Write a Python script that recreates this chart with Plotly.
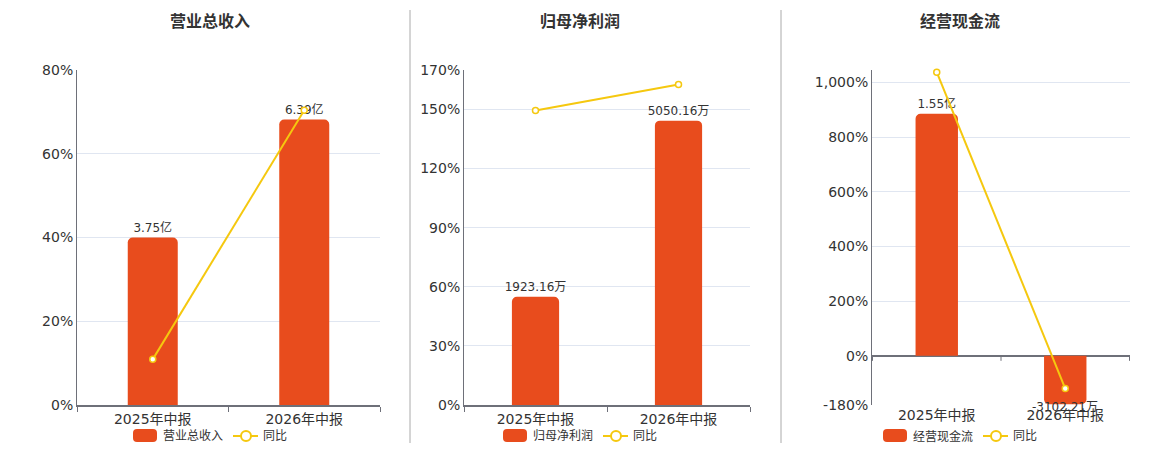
import plotly.graph_objects as go

# ---------------- data ----------------
periods = ["2025年中报", "2026年中报"]

titles = ["营业总收入", "归母净利润", "经营现金流"]
yoy_name = "同比"

revenue = [3.75, 6.39]            # 亿
revenue_labels = ["3.75亿", "6.39亿"]
revenue_yoy = [10.9, 70.4]        # %

profit = [1923.16, 5050.16]       # 万
profit_labels = ["1923.16万", "5050.16万"]
profit_yoy = [149.5, 162.6]       # %

cashflow = [15500.0, -3102.21]    # 万
cashflow_labels = ["1.55亿", "-3102.21万"]
cashflow_yoy = [1038.0, -120.0]   # %

pct_ticks_1 = [0, 20, 40, 60, 80]
pct_ticks_2 = [0, 30, 60, 90, 120, 150, 170]
pct_ticks_3 = [-180, 0, 200, 400, 600, 800, 1000]

# ---------------- style ----------------
BAR = "#E84C1D"
LINE = "#F5C80F"
AXIS = "#6E7079"
GRID = "#E0E6F1"
TXT = "#333333"
FONT = "DejaVu Sans, Noto Sans CJK SC, sans-serif"

W, H = 1160, 450
OFF = 8  # page body margin offset


def px_x(p):
    return (p - OFF) / W


def px_y(p):
    return 1 - (p - OFF) / H


dom_y = [px_y(405), px_y(70)]
domains = [[px_x(77), px_x(380)], [px_x(464), px_x(750)], [px_x(872), px_x(1130)]]
centers = [210, 580, 960]

fig = go.Figure()

panels = [
    (revenue, revenue_labels, revenue_yoy, [0, 7.5], [0, 80], pct_ticks_1),
    (profit, profit_labels, profit_yoy, [0, 5950], [0, 170], pct_ticks_2),
    (cashflow, cashflow_labels, cashflow_yoy, [-3150, 18307], [-180, 1046], pct_ticks_3),
]

for i, (vals, labels, yoy, bar_rng, pct_rng, ticks) in enumerate(panels):
    n = i + 1
    xa = "x" if n == 1 else f"x{n}"
    ya_bar = "y" if n == 1 else f"y{n}"
    ya_pct = f"y{n + 3}"

    pos_text = [t if v >= 0 else "" for v, t in zip(vals, labels)]
    fig.add_trace(go.Bar(
        x=periods, y=vals, text=pos_text, textposition="outside",
        cliponaxis=False, width=0.33, constraintext="none",
        marker=dict(color=BAR, cornerradius=5, line=dict(width=0)),
        textfont=dict(size=12, color=TXT, family=FONT),
        name=titles[i], showlegend=False, xaxis=xa, yaxis=ya_bar,
        hoverinfo="skip",
    ))
    # labels for negative bars, placed just under the bar end
    for p, v, t in zip(periods, vals, labels):
        if v < 0:
            fig.add_annotation(
                text=t, xref=xa, yref=ya_bar, x=p, y=v,
                xanchor="center", yanchor="top", yshift=6,
                showarrow=False, font=dict(size=12, color=TXT, family=FONT),
            )
    fig.add_trace(go.Scatter(
        x=periods, y=yoy, mode="lines+markers",
        line=dict(color=LINE, width=2),
        marker=dict(symbol="circle", size=6, color="white",
                    line=dict(color=LINE, width=1.5)),
        name=yoy_name, showlegend=False, xaxis=xa, yaxis=ya_pct,
        cliponaxis=False, hoverinfo="skip",
    ))

    xkey = "xaxis" if n == 1 else f"xaxis{n}"
    ykey_bar = "yaxis" if n == 1 else f"yaxis{n}"
    ykey_pct = f"yaxis{n + 3}"

    fig.layout[xkey] = dict(
        domain=domains[i], anchor=ya_bar, type="category",
        showline=(n != 3), linecolor=AXIS, linewidth=2,
        ticks="outside", tickson="boundaries", ticklen=5,
        tickcolor=AXIS if n != 3 else "rgba(0,0,0,0)",
        showgrid=False, automargin=False,
        tickfont=dict(size=14, color=TXT, family=FONT),
        fixedrange=True,
    )
    fig.layout[ykey_bar] = dict(
        domain=dom_y, anchor=xa, range=bar_rng, visible=False,
        fixedrange=True, automargin=False,
    )
    if n == 3:
        ticktext = [f"{t:,}%" for t in ticks] + [""]
        tickvals = ticks + [pct_rng[1]]
    else:
        ticktext = [f"{t}%" for t in ticks]
        tickvals = ticks
    fig.layout[ykey_pct] = dict(
        domain=dom_y, anchor=xa, overlaying=ya_bar, side="left",
        range=pct_rng, tickmode="array", tickvals=tickvals, ticktext=ticktext,
        showgrid=True, gridcolor=GRID, gridwidth=1,
        showline=True, linecolor=AXIS, linewidth=1,
        zeroline=(n == 3), zerolinecolor=AXIS, zerolinewidth=2,
        tickfont=dict(size=14, color=TXT, family=FONT),
        fixedrange=True, automargin=False,
    )

    # chart title
    c = centers[i]
    fig.add_annotation(
        text=f"<b>{titles[i]}</b>", xref="paper", yref="paper",
        x=px_x(c), y=px_y(22), xanchor="center", yanchor="middle",
        showarrow=False, font=dict(size=16, color=TXT, family=FONT),
    )

    # legend (bar swatch + line icon)
    x0, x1 = px_x(c - 77), px_x(c - 53)
    ytop, ybot = px_y(429), px_y(442)
    rx, ry = 4 / W, 4 / H
    path = (f"M {x0 + rx},{ytop} L {x1 - rx},{ytop} Q {x1},{ytop} {x1},{ytop - ry} "
            f"L {x1},{ybot + ry} Q {x1},{ybot} {x1 - rx},{ybot} "
            f"L {x0 + rx},{ybot} Q {x0},{ybot} {x0},{ybot + ry} "
            f"L {x0},{ytop - ry} Q {x0},{ytop} {x0 + rx},{ytop} Z")
    fig.add_shape(type="path", path=path, xref="paper", yref="paper",
                  fillcolor=BAR, line=dict(width=0))
    fig.add_annotation(
        text=titles[i], xref="paper", yref="paper",
        x=px_x(c - 49), y=px_y(436), xanchor="left", yanchor="middle",
        showarrow=False, font=dict(size=12, color=TXT, family=FONT),
    )
    fig.add_shape(type="line", xref="paper", yref="paper",
                  x0=px_x(c + 23), x1=px_x(c + 48), y0=px_y(436), y1=px_y(436),
                  line=dict(color=LINE, width=2))
    fig.add_shape(type="circle", xref="paper", yref="paper",
                  x0=px_x(c + 31), x1=px_x(c + 41), y0=px_y(431), y1=px_y(441),
                  fillcolor="white", line=dict(color=LINE, width=2))
    fig.add_annotation(
        text=yoy_name, xref="paper", yref="paper",
        x=px_x(c + 51), y=px_y(436), xanchor="left", yanchor="middle",
        showarrow=False, font=dict(size=12, color=TXT, family=FONT),
    )

# tick marks on the zero line for the cash-flow panel
for b in [-0.5, 0.5, 1.5]:
    fig.add_shape(type="line", xref="x3", yref="y3", x0=b, x1=b,
                  ysizemode="pixel", yanchor=0, y0=0, y1=-5,
                  line=dict(color=AXIS, width=1))

# panel separators
for sx in [410, 781]:
    fig.add_shape(type="line", xref="paper", yref="paper",
                  x0=px_x(sx), x1=px_x(sx), y0=px_y(443), y1=px_y(10),
                  line=dict(color="#AAAAAA", width=1))

fig.update_layout(
    width=W, height=H, margin=dict(l=0, r=0, t=0, b=0, autoexpand=False),
    paper_bgcolor="white", plot_bgcolor="white",
    font=dict(family=FONT, color=TXT), showlegend=False,
)

fig.write_html("out.html")
